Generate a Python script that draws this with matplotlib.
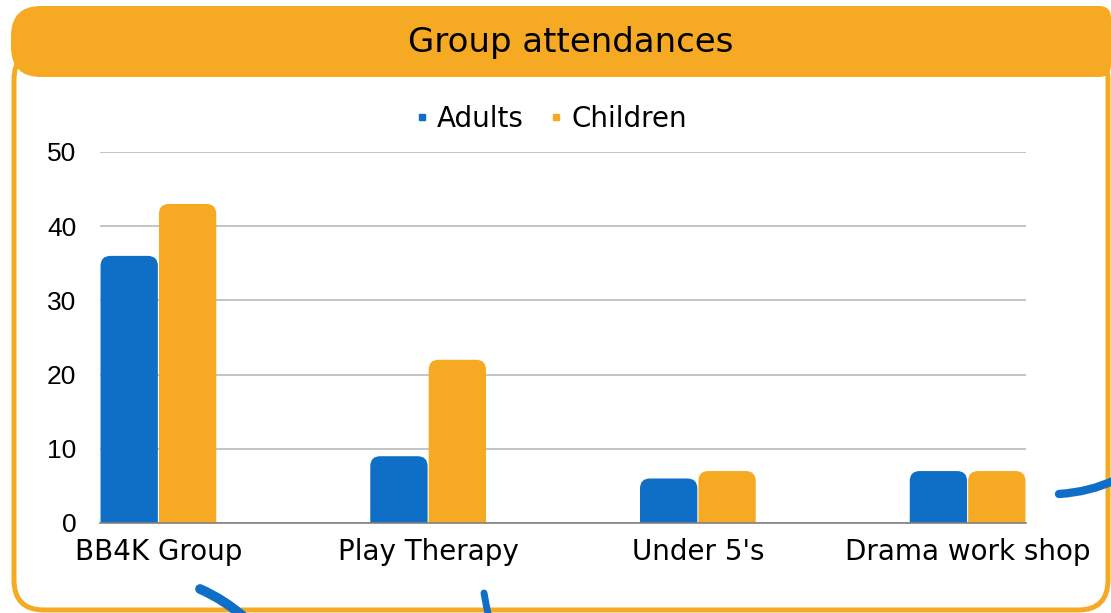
import matplotlib
matplotlib.use("Agg")
import matplotlib.pyplot as plt
from matplotlib.path import Path
from matplotlib.patches import PathPatch, FancyBboxPatch
from matplotlib.lines import Line2D
from matplotlib.transforms import IdentityTransform
import numpy as np

# ---- data ----
categories = ["BB4K Group", "Play Therapy", "Under 5's", "Drama work shop"]
adults = [36, 9, 6, 7]
children = [43, 22, 7, 7]
series_names = ["Adults", "Children"]
yticks = [0, 10, 20, 30, 40, 50]
title = "Group attendances"

BLUE = "#0f6fc6"
ORANGE = "#f6aa24"
FONT = "DejaVu Sans"

W, H = 1111, 613
fig = plt.figure(figsize=(W / 100, H / 100), dpi=100)
fig.patch.set_facecolor("white")

def py(y):  # image y (top-down) -> pixel y (bottom-up)
    return H - y

pix = IdentityTransform()

# ---- frame ----
frame = FancyBboxPatch((14, py(610)), 1094, 560, boxstyle="round,pad=0,rounding_size=30",
                       transform=pix, facecolor="none", edgecolor=ORANGE, linewidth=3.6,
                       zorder=0)
fig.patches.append(frame)
ban1 = FancyBboxPatch((11, py(77)), 700, 71, boxstyle="round,pad=0,rounding_size=30",
                      transform=pix, facecolor=ORANGE, edgecolor="none", zorder=1)
ban2 = FancyBboxPatch((600, py(77)), 511, 71, boxstyle="round,pad=0,rounding_size=12",
                      transform=pix, facecolor=ORANGE, edgecolor="none", zorder=1)
fig.patches.extend([ban1, ban2])
fig.text(571 / W, 1 - 52 / H, title, ha="center", va="baseline", fontsize=24.5,
         family=FONT, color="black", zorder=3)

# ---- decorative blue strokes ----
def stroke(p0, c, p1, lw):
    verts = [(p0[0], py(p0[1])), (c[0], py(c[1])), (p1[0], py(p1[1]))]
    pp = PathPatch(Path(verts, [Path.MOVETO, Path.CURVE3, Path.CURVE3]), transform=pix,
                   facecolor="none", edgecolor=BLUE, linewidth=lw, capstyle="round", zorder=2)
    fig.patches.append(pp)

stroke((200, 589), (225, 600), (245, 618), 7)
stroke((484, 593), (486, 605), (489, 618), 5)
stroke((1059, 494), (1090, 492), (1115, 480), 6)

# ---- axes ----
left, right, bottom, top = 100, 1026, 523, 152
ax = fig.add_axes([left / W, 1 - bottom / H, (right - left) / W, (bottom - top) / H])
bw = 0.2165
x = np.arange(len(categories))
ax.set_xlim(-bw, len(categories) - 1 + bw)
ax.set_ylim(0, 50)
ax.set_facecolor("none")

bars_a = ax.bar(x - bw / 2, adults, width=bw - 0.004, color=BLUE, label=series_names[0])
bars_c = ax.bar(x + bw / 2, children, width=bw - 0.004, color=ORANGE, label=series_names[1])

fig.canvas.draw()
px_per_x = (right - left) / (ax.get_xlim()[1] - ax.get_xlim()[0])
px_per_y = (bottom - top) / (ax.get_ylim()[1] - ax.get_ylim()[0])
r = 10
rx, ry = r / px_per_x, r / px_per_y
for rect in list(bars_a) + list(bars_c):
    x0 = rect.get_x(); x1 = x0 + rect.get_width(); h = rect.get_height()
    rr = min(ry, h)
    verts = [(x0, 0), (x0, h - rr), (x0, h), (x0 + rx, h), (x1 - rx, h), (x1, h), (x1, h - rr),
             (x1, 0), (x0, 0)]
    codes = [Path.MOVETO, Path.LINETO, Path.CURVE3, Path.CURVE3, Path.LINETO, Path.CURVE3,
             Path.CURVE3, Path.LINETO, Path.CLOSEPOLY]
    ax.add_patch(PathPatch(Path(verts, codes), facecolor=rect.get_facecolor(),
                           edgecolor="none", zorder=3))
    rect.set_visible(False)

ax.set_yticks(yticks)
ax.set_yticklabels([str(t) for t in yticks], fontsize=19, family="Liberation Sans",
                   color="black")
ax.set_xticks(x)
ax.set_xticklabels(categories, fontsize=20, family=FONT, color="black")
ax.tick_params(axis="both", length=0)
ax.tick_params(axis="y", pad=17)
ax.tick_params(axis="x", pad=11)
ax.yaxis.grid(True, color="#bfbfbf", linewidth=1.3)
ax.set_axisbelow(True)
for s in ["left", "right", "top"]:
    ax.spines[s].set_visible(False)
ax.spines["bottom"].set_color("#808080")
ax.spines["bottom"].set_linewidth(1.2)
ax.spines["bottom"].set_zorder(4)

handles = [Line2D([], [], marker="s", linestyle="none", markersize=5, color=BLUE),
           Line2D([], [], marker="s", linestyle="none", markersize=5, color=ORANGE)]
fig.legend(handles, series_names, loc="center", bbox_to_anchor=(551 / W, 1 - 119 / H),
           ncol=2, frameon=False, handlelength=0.5, handletextpad=0.3,
           columnspacing=0.9, prop={"family": FONT, "size": 20})

fig.savefig("out.png", dpi=100)
